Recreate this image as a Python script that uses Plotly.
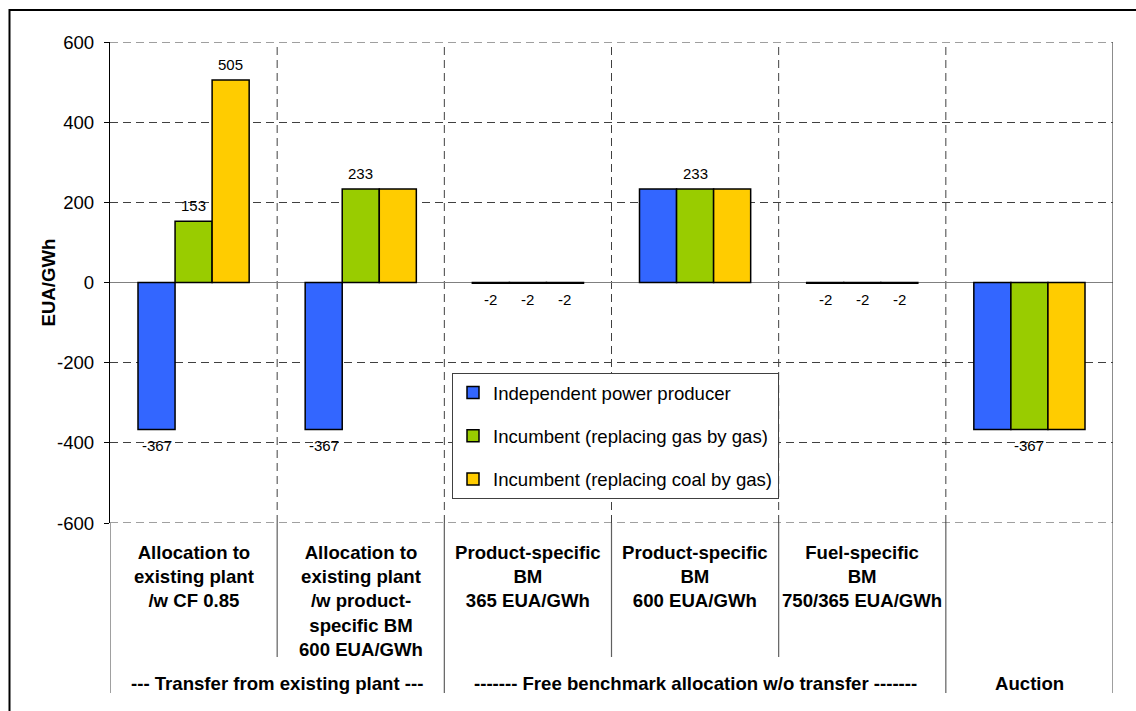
import plotly.graph_objects as go

# ---------------- data ----------------
categories = [
    "Allocation to<br>existing plant<br>/w CF 0.85",
    "Allocation to<br>existing plant<br>/w product-<br>specific BM<br>600 EUA/GWh",
    "Product-specific<br>BM<br>365 EUA/GWh",
    "Product-specific<br>BM<br>600 EUA/GWh",
    "Fuel-specific<br>BM<br>750/365 EUA/GWh",
    "",
]
group_labels = [
    "--- Transfer from existing plant ---",
    "------- Free benchmark allocation w/o transfer -------",
    "Auction",
]
group_spans = [(0, 1), (2, 4), (5, 5)]

series_names = [
    "Independent power producer",
    "Incumbent (replacing gas by gas)",
    "Incumbent (replacing coal by gas)",
]
ipp_values = [-367, -367, -2, 233, -2, -367]
gas_values = [153, 233, -2, 233, -2, -367]
coal_values = [505, 233, -2, 233, -2, -367]

ipp_labels = [True, True, True, False, True, False]
gas_labels = [True, True, True, True, True, True]
coal_labels = [True, False, True, False, True, False]

colors = ["#3366FF", "#99CC00", "#FFCC00"]

y_ticks = [-600, -400, -200, 0, 200, 400, 600]

# ---------------- figure ----------------
FONT = "Arial, Liberation Sans, sans-serif"
FS = 18.6
W, H = 1136, 711
ML, MR, MT, MB = 110, 23, 42, 188
PW = W - ML - MR
PH = H - MT - MB
BARGAP = 0.335
DASH = "8px,5px"


def py(p):  # pixel y -> paper
    return (H - MB - p) / PH


def px(p):  # pixel x -> paper
    return (p - ML) / PW


xs = list(range(len(categories)))
all_values = [ipp_values, gas_values, coal_values]
all_labels = [ipp_labels, gas_labels, coal_labels]

fig = go.Figure()
for k, (name, vals) in enumerate(zip(series_names, all_values)):
    fig.add_trace(go.Bar(
        x=xs, y=vals, name=name, legendgroup=str(k),
        marker=dict(color=colors[k], line=dict(color="black", width=1.5)),
        hoverinfo="skip",
    ))

annotations = []
bw = (1 - BARGAP) / 3
for k, (vals, shows) in enumerate(zip(all_values, all_labels)):
    for i, (v, s) in enumerate(zip(vals, shows)):
        if not s:
            continue
        annotations.append(dict(
            x=i + (k - 1) * bw, y=v, xref="x", yref="y",
            text=str(v), showarrow=False,
            font=dict(family=FONT, size=15, color="black"),
            yanchor="middle", yshift=16 if v > 0 else -16,
        ))

# category labels
for i, c in enumerate(categories):
    if not c:
        continue
    annotations.append(dict(
        x=i, y=py(540), xref="x", yref="paper",
        text="<b>" + c.replace("<br>", "</b><br><b>") + "</b>",
        showarrow=False, yanchor="top", xanchor="center",
        font=dict(family=FONT, size=FS, color="black"),
    ))
# group labels
for g, (a, b) in zip(group_labels, group_spans):
    annotations.append(dict(
        x=(a + b) / 2, y=py(683), xref="x", yref="paper", text="<b>" + g + "</b>",
        showarrow=False, yanchor="middle", xanchor="center",
        font=dict(family=FONT, size=FS, color="black"),
    ))
# y title
annotations.append(dict(
    x=px(48), y=0.5, xref="paper", yref="paper", text="<b>EUA/GWh</b>",
    textangle=-90, showarrow=False, xanchor="center", yanchor="middle",
    font=dict(family=FONT, size=FS, color="black"),
))

shapes = []
n = len(categories)
# vertical dashed separators inside plot
for i in range(n - 1):
    shapes.append(dict(type="line", xref="x", yref="y", x0=i + 0.5, x1=i + 0.5,
                       y0=y_ticks[0], y1=y_ticks[-1],
                       line=dict(color="#404040", width=1, dash=DASH), layer="below"))
# dashed top / bottom gridlines at range edges
for yv in (y_ticks[0], y_ticks[-1]):
    shapes.append(dict(type="line", xref="x", yref="y", x0=-0.5, x1=n - 0.5,
                       y0=yv, y1=yv, line=dict(color="#404040", width=1, dash=DASH)))
# right border of plot
shapes.append(dict(type="line", xref="x", yref="y", x0=n - 0.5, x1=n - 0.5,
                   y0=y_ticks[0], y1=y_ticks[-1], line=dict(color="#404040", width=1.2)))
# lines below plot
long_edges = {-0.5} | {b + 0.5 for (_, b) in group_spans}
for i in range(n + 1):
    xe = i - 0.5
    y1 = py(693) if xe in long_edges else py(657)
    shapes.append(dict(type="line", xref="x", yref="paper", x0=xe, x1=xe,
                       y0=0, y1=y1, line=dict(color="#606060", width=1.2)))
# outer frame (top & left visible)
shapes.append(dict(type="line", xref="paper", yref="paper", x0=px(9), x1=px(1140),
                   y0=py(10), y1=py(10), line=dict(color="black", width=2)))
shapes.append(dict(type="line", xref="paper", yref="paper", x0=px(9.5), x1=px(9.5),
                   y0=py(9), y1=py(720), line=dict(color="black", width=2)))

fig.update_layout(
    width=W, height=H,
    margin=dict(l=ML, r=MR, t=MT, b=MB, pad=0),
    paper_bgcolor="white", plot_bgcolor="white",
    barmode="group", bargap=BARGAP, bargroupgap=0,
    font=dict(family=FONT, size=FS, color="black"),
    showlegend=True,
    legend=dict(
        x=px(452), y=py(373), xanchor="left", yanchor="top",
        bgcolor="white", bordercolor="#404040", borderwidth=1,
        font=dict(family=FONT, size=FS, color="black"),
        tracegroupgap=16, itemwidth=30,
    ),
    annotations=annotations,
    shapes=shapes,
    xaxis=dict(range=[-0.5, n - 0.5], showticklabels=False, showgrid=False,
               zeroline=False, showline=False, fixedrange=True),
    yaxis=dict(range=[y_ticks[0], y_ticks[-1]], tickvals=y_ticks,
               ticktext=[str(t) for t in y_ticks],
               showgrid=True, gridcolor="#404040", griddash=DASH, gridwidth=1,
               zeroline=True, zerolinecolor="#808080", zerolinewidth=1.2,
               showline=True, linecolor="black", linewidth=1.2,
               ticks="outside", ticklen=5, tickcolor="black",
               tickfont=dict(family=FONT, size=FS, color="black"),
               ticklabelstandoff=6, fixedrange=True),
)

fig.write_html(
    "out.html",
    config={"displayModeBar": False},
    post_script="document.body.style.margin='0';document.body.style.padding='0';",
)
